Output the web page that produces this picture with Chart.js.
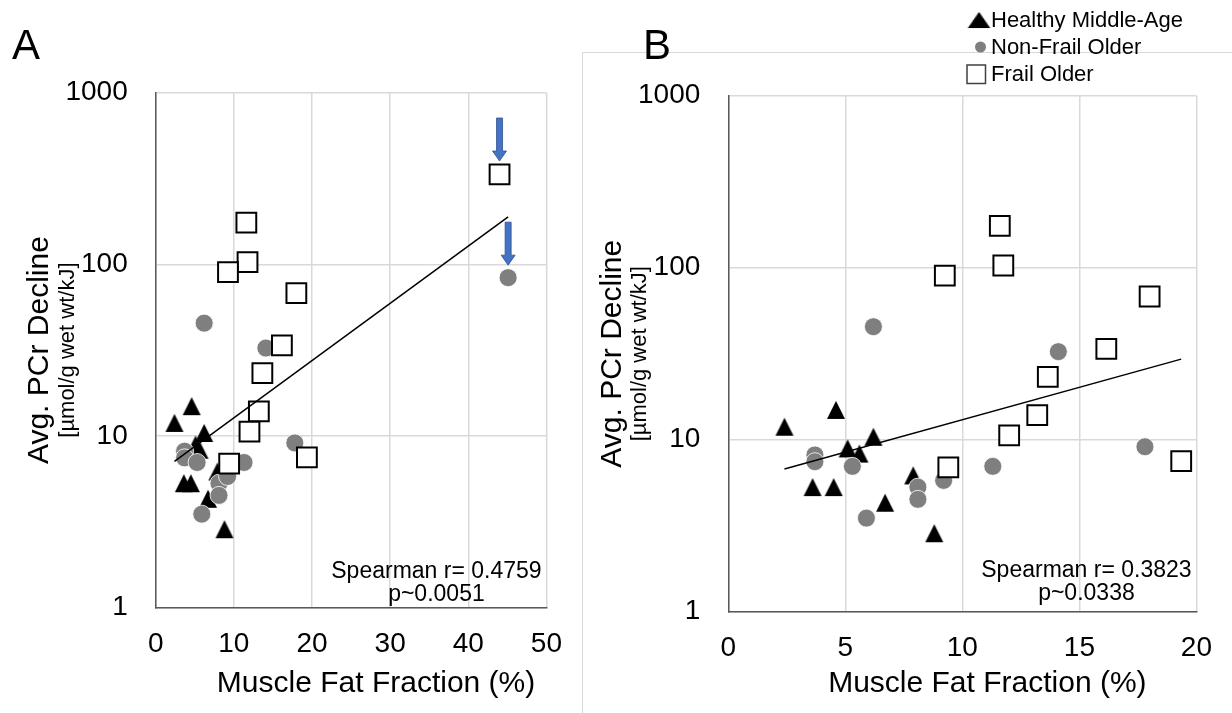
<!DOCTYPE html>
<html>
<head>
<meta charset="utf-8">
<title>PCr decline vs muscle fat fraction</title>
<script src="https://cdn.jsdelivr.net/npm/chart.js@4/dist/chart.umd.min.js"></script>
<style>
  html, body { margin: 0; padding: 0; background: #fff; }
  #wrapA { position: absolute; left: 0; top: 0; width: 582px; height: 713px; }
  #wrapB { position: absolute; left: 582px; top: 0; width: 650px; height: 713px; }
</style>
</head>
<body>
<div id="wrapA"><canvas id="chartA" width="582" height="713"></canvas></div>
<div id="wrapB"><canvas id="chartB" width="650" height="713"></canvas></div>
<script>
// values (x = muscle fat fraction %, y = PCr decline)
const healthyX = [2.4, 4.6, 5.1, 5.6, 6.2, 3.6, 4.5, 7.9, 6.7, 8.8];
const healthyY = [11.9, 14.9, 8.9, 8.3, 10.4, 5.3, 5.3, 6.2, 4.3, 2.86];

const nonFrailX = [6.2, 14.1, 17.8, 11.3, 3.7, 3.7, 5.3, 8.1, 8.1, 9.2, 5.9, 45.1];
const nonFrailY = [45.4, 32.5, 9.1, 7.0, 8.15, 7.45, 7.0, 5.3, 4.5, 5.8, 3.5, 83.6];

const frailX = [11.6, 11.75, 9.25, 18.0, 16.15, 13.65, 13.2, 12.0, 19.35, 9.4, 44.0];
const frailY = [175, 103, 90, 68, 33.7, 23.2, 13.9, 10.6, 7.5, 6.9, 334];

// exponential trend lines (endpoints)
const trendAX = [2.4, 45.1];
const trendAY = [7.1, 189];
const trendBX = [2.4, 19.35];
const trendBY = [6.75, 29.4];

const yTicks = [1, 10, 100, 1000];
const xTicksA = [0, 10, 20, 30, 40, 50];
const xTicksB = [0, 5, 10, 15, 20];
const panelBMaxX = 20; // panel B leaves out the two arrowed points

const statsA = ["Spearman r= 0.4759", "p~0.0051"];
const statsB = ["Spearman r= 0.3823", "p~0.0338"];

const xTitle = "Muscle Fat Fraction (%)";
const yTitle = "Avg. PCr Decline";
const ySubTitle = "[\u00b5mol/g wet wt/kJ]";
const legendLabels = ["Healthy Middle-Age", "Non-Frail Older", "Frail Older"];

const FONT = "'Liberation Sans', Arial, sans-serif";
Chart.defaults.font.family = FONT;
Chart.defaults.color = "#000";

function makeTriangle(w, h) {
  const c = document.createElement("canvas");
  c.width = w + 2;
  c.height = h + 2;
  const g = c.getContext("2d");
  g.beginPath();
  g.moveTo(1 + w / 2, 1);
  g.lineTo(1 + w, 1 + h);
  g.lineTo(1, 1 + h);
  g.closePath();
  g.fillStyle = "#000";
  g.fill();
  return c;
}
const triImg = makeTriangle(18, 18);

const points = (xs, ys, maxX) =>
  xs.map((x, i) => ({ x: x, y: ys[i] })).filter((p) => p.x <= maxX);

function drawArrow(ctx, x, tipY) {
  ctx.beginPath();
  ctx.moveTo(x - 3, tipY - 43);
  ctx.lineTo(x + 3, tipY - 43);
  ctx.lineTo(x + 3, tipY - 10);
  ctx.lineTo(x + 7, tipY - 10);
  ctx.lineTo(x, tipY);
  ctx.lineTo(x - 7, tipY - 10);
  ctx.lineTo(x - 3, tipY - 10);
  ctx.closePath();
  ctx.fillStyle = "#4472c4";
  ctx.fill();
  ctx.strokeStyle = "#2f528f";
  ctx.lineWidth = 0.8;
  ctx.stroke();
}

const decorPlugin = {
  id: "decor",
  beforeDraw(chart, args, o) {
    if (!o.frame) return;
    const { ctx, width, height } = chart;
    ctx.save();
    ctx.strokeStyle = "#d9d9d9";
    ctx.lineWidth = 1;
    ctx.beginPath();
    ctx.moveTo(0.5, height);
    ctx.lineTo(0.5, o.frameTop + 0.5);
    ctx.lineTo(width, o.frameTop + 0.5);
    ctx.stroke();
    ctx.restore();
  },
  afterDraw(chart, args, o) {
    const { ctx, chartArea: a } = chart;
    ctx.save();
    ctx.fillStyle = "#000";

    // panel letter
    ctx.font = "42px " + FONT;
    ctx.textAlign = "left";
    ctx.textBaseline = "alphabetic";
    ctx.fillText(o.letter, o.letterX, o.letterY);

    // y axis titles
    ctx.save();
    ctx.translate(a.left - 116, (a.top + a.bottom) / 2);
    ctx.rotate(-Math.PI / 2);
    ctx.textAlign = "center";
    ctx.textBaseline = "middle";
    ctx.font = "30px " + FONT;
    ctx.fillText(yTitle, 0, 0);
    ctx.font = "22px " + FONT;
    ctx.fillText(ySubTitle, 0, 28);
    ctx.restore();

    // x axis title
    ctx.textAlign = "center";
    ctx.textBaseline = "middle";
    ctx.font = "30px " + FONT;
    ctx.fillText(xTitle, (a.left + a.right) / 2 + 25, 684);

    // stats
    ctx.font = "23px " + FONT;
    o.stats.forEach((t, i) => {
      ctx.fillText(t, a.right - 110, a.bottom + o.statsDy[i]);
    });

    // arrows over the points left out of panel B
    if (o.arrows) {
      chart.data.datasets.forEach((ds, di) => {
        if (ds.showLine) return;
        chart.getDatasetMeta(di).data.forEach((el, i) => {
          if (ds.data[i].x <= panelBMaxX) return;
          const r = el.options.radius;
          const half = ds.pointStyle === "rect" ? r * Math.SQRT1_2 : r;
          drawArrow(ctx, el.x, el.y - half - 3.5);
        });
      });
    }

    // legend
    if (o.legend) {
      const lx = 397;
      const rows = [20, 47, 74];
      ctx.drawImage(triImg, 0, 0, triImg.width, triImg.height, lx - 12.5, rows[0] - 9, 25, 18);
      ctx.beginPath();
      ctx.arc(lx + 1.5, rows[1], 5.5, 0, Math.PI * 2);
      ctx.fillStyle = "#7f7f7f";
      ctx.fill();
      ctx.strokeStyle = "#404040";
      ctx.lineWidth = 1.5;
      ctx.strokeRect(lx - 12, rows[2] - 9, 18.5, 18.5);
      ctx.fillStyle = "#000";
      ctx.textAlign = "left";
      ctx.font = "22px " + FONT;
      legendLabels.forEach((t, i) => ctx.fillText(t, 409, rows[i] + 1));
    }
    ctx.restore();
  },
};

function buildChart(id, cfg) {
  const grid = { color: "#d9d9d9", lineWidth: 1.5, drawTicks: false };
  const border = { color: "#595959", width: 1.5 };
  new Chart(document.getElementById(id).getContext("2d"), {
    type: "scatter",
    data: {
      datasets: [
        {
          label: "Trend",
          data: cfg.trendX.map((x, i) => ({ x: x, y: cfg.trendY[i] })),
          showLine: true,
          borderColor: "#000",
          borderWidth: 1.5,
          pointRadius: 0,
          order: 0,
        },
        {
          label: legendLabels[2],
          data: points(frailX, frailY, cfg.maxX),
          pointStyle: "rect",
          pointRadius: 14,
          backgroundColor: "#fff",
          borderColor: "#000",
          borderWidth: 2,
          order: 1,
        },
        {
          label: legendLabels[1],
          data: points(nonFrailX, nonFrailY, cfg.maxX),
          pointStyle: "circle",
          pointRadius: 9,
          backgroundColor: "#7f7f7f",
          borderColor: "rgba(255,255,255,0.8)",
          borderWidth: 1,
          order: 2,
        },
        {
          label: legendLabels[0],
          data: points(healthyX, healthyY, cfg.maxX),
          pointStyle: triImg,
          pointRadius: 9,
          order: 3,
        },
      ],
    },
    options: {
      responsive: false,
      animation: false,
      events: [],
      layout: { padding: cfg.padding },
      plugins: {
        legend: { display: false },
        tooltip: { enabled: false },
        decor: cfg.decor,
      },
      scales: {
        x: {
          type: "linear",
          min: cfg.xTicks[0],
          max: cfg.xTicks[cfg.xTicks.length - 1],
          afterBuildTicks: (s) => { s.ticks = cfg.xTicks.map((v) => ({ value: v })); },
          afterFit: (s) => { s.height = cfg.xHeight; },
          ticks: { padding: 20, font: { size: 28 }, color: "#000" },
          grid: grid,
          border: border,
        },
        y: {
          type: "logarithmic",
          min: 1,
          max: 1000,
          afterBuildTicks: (s) => { s.ticks = yTicks.map((v) => ({ value: v })); },
          afterFit: (s) => { s.width = cfg.yWidth; },
          ticks: { padding: 28, font: { size: 28 }, color: "#000", callback: (v) => String(v) },
          grid: grid,
          border: border,
        },
      },
    },
    plugins: [decorPlugin],
  });
}

buildChart("chartA", {
  maxX: Infinity,
  trendX: trendAX,
  trendY: trendAY,
  xTicks: xTicksA,
  padding: { top: 92.7, right: 31.3, left: 0, bottom: 0 },
  yWidth: 155.7,
  xHeight: 105.5,
  decor: { letter: "A", letterX: 12, letterY: 59, stats: statsA, statsDy: [-36, -13], arrows: true },
});

buildChart("chartB", {
  maxX: panelBMaxX,
  trendX: trendBX,
  trendY: trendBY,
  xTicks: xTicksB,
  padding: { top: 95.7, right: 28.7, left: 0, bottom: 0 },
  yWidth: 146.3,
  xHeight: 101.3,
  decor: { letter: "B", letterX: 61, letterY: 59, stats: statsB, statsDy: [-41.5, -18.5], frame: true, frameTop: 52, legend: true },
});
</script>
</body>
</html>
